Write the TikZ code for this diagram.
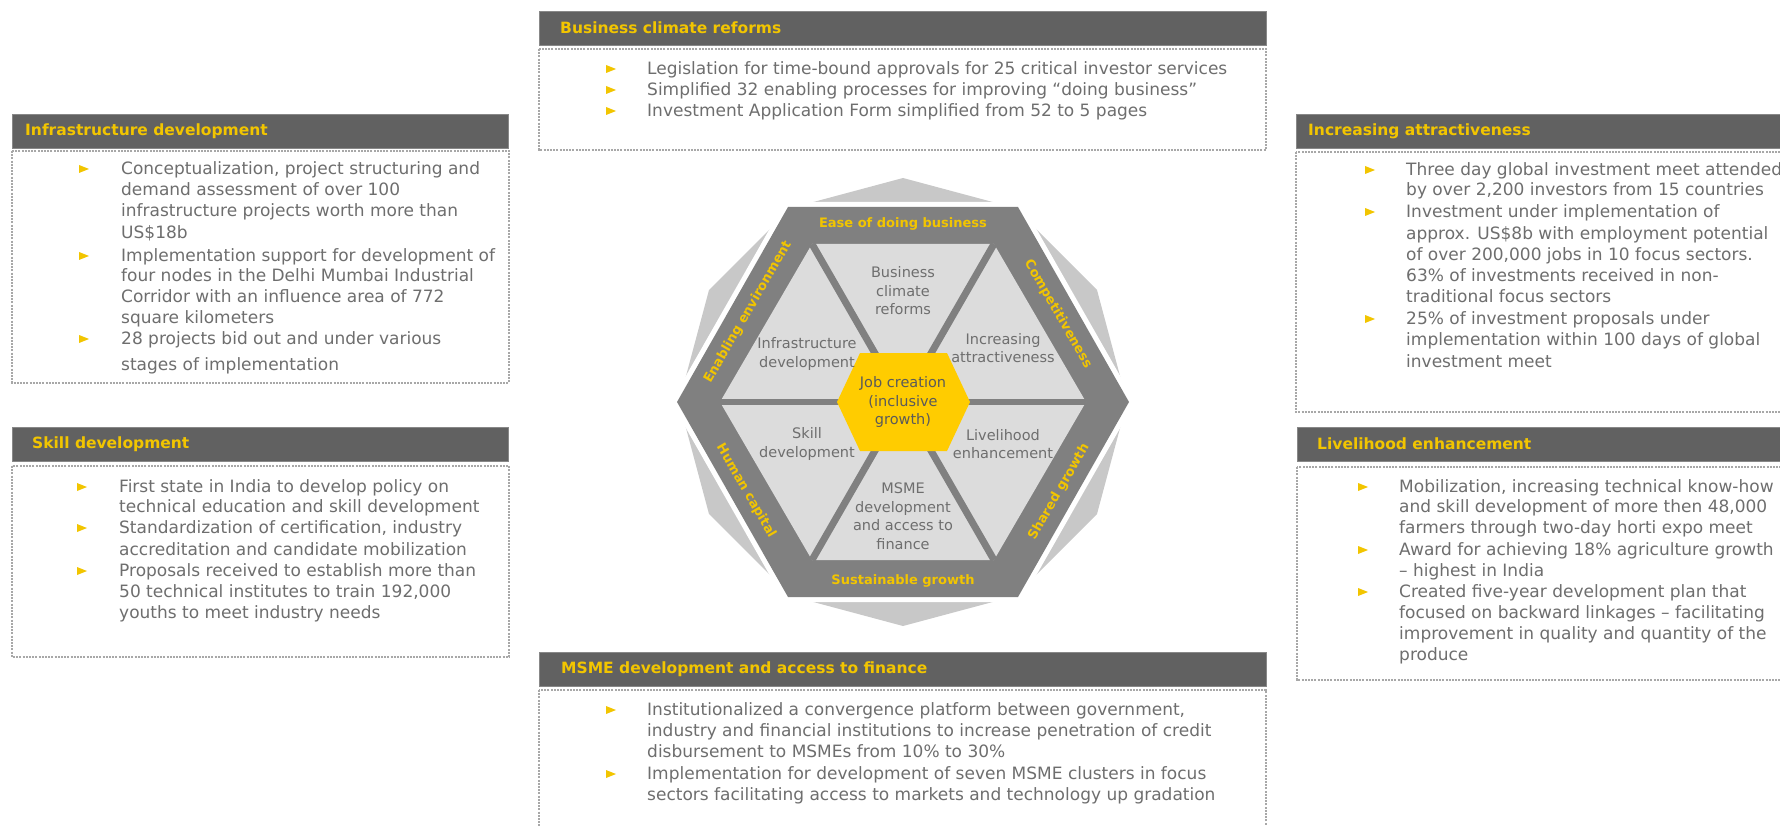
\documentclass[tikz,border=0pt]{standalone}
\usepackage{fontspec}
\setmainfont{DejaVu Sans}
\definecolor{hdr}{HTML}{616161}
\definecolor{ylw}{HTML}{F2C500}
\definecolor{txt}{HTML}{6E6E6E}
\definecolor{dashc}{HTML}{A8A8A8}
\definecolor{band}{HTML}{808080}
\definecolor{tri}{HTML}{DCDCDC}
\definecolor{dodec}{HTML}{C8C8C8}
\definecolor{core}{HTML}{FFCC00}
\definecolor{coretxt}{HTML}{5A5A5A}
\tikzset{
  hdrbar/.style={fill=hdr, draw=hdr!75!white, line width=0.8pt},
  hdrtext/.style={text=ylw, font=\bfseries\fontsize{15.5}{18}\selectfont, anchor=west, inner sep=0pt},
  bodybox/.style={draw=dashc, line width=1.4pt, dash pattern=on 2pt off 1.2pt},
  bodyline/.style={text=txt, font=\fontsize{17}{21}\selectfont, anchor=base west, inner sep=0pt},
  bulletmark/.style={fill=ylw},
  bandlabel/.style={text=ylw, font=\bfseries\fontsize{13}{15}\selectfont, inner sep=0pt},
  trilabel/.style={text=txt, font=\fontsize{14.5}{18.5}\selectfont, align=center, inner sep=0pt},
}
\newcommand\bodylines[4]{%
  \foreach \ly/\lb/\lt [count=\lk] in {#4} {
    \node[bodyline] (#1-\lk) at (#3,\ly+5.5) {\lt};
    \ifnum\lb=1 \fill[bulletmark] (#2,\ly-4) -- (#2+10,\ly) -- (#2,\ly+4) -- cycle; \fi
  }}
\begin{document}
\begin{tikzpicture}[x=1pt,y=-1pt]
\useasboundingbox (0,0) rectangle (1780,826);
\clip (0,0) rectangle (1780,826);
\fill[white] (0,0) rectangle (1780,826);

% ---------- boxes ----------
% top
\draw[bodybox] (539,49) rectangle (1266,150);
\draw[hdrbar] (539,11) rectangle (1266,45);
\node[hdrtext] (h-top) at (560,28) {Business climate reforms};
\bodylines{top}{606}{647}{
  69/1/Legislation for time-bound approvals for 25 critical investor services,
  90/1/Simplified 32 enabling processes for improving “doing business”,
  111/1/Investment Application Form simplified from 52 to 5 pages}

% infrastructure
\draw[bodybox] (12,151) rectangle (509,383);
\draw[hdrbar] (12,114) rectangle (508,148);
\node[hdrtext] (h-inf) at (25,131) {Infrastructure development};
\bodylines{inf}{79}{121}{
  169/1/{Conceptualization, project structuring and},
  190/0/demand assessment of over 100,
  211/0/infrastructure projects worth more than,
  233/0/US\$18b,
  256/1/Implementation support for development of,
  276/0/four nodes in the Delhi Mumbai Industrial,
  297/0/Corridor with an influence area of 772,
  318/0/square kilometers,
  339/1/28 projects bid out and under various,
  365/0/stages of implementation}

% skill
\draw[bodybox] (12,466) rectangle (509,657);
\draw[hdrbar] (12,427) rectangle (508,461);
\node[hdrtext] (h-skl) at (32,444) {Skill development};
\bodylines{skl}{77}{119}{
  487/1/First state in India to develop policy on,
  507/0/technical education and skill development,
  528/1/{Standardization of certification, industry},
  550/0/accreditation and candidate mobilization,
  571/1/Proposals received to establish more than,
  592/0/{50 technical institutes to train 192,000},
  613/0/youths to meet industry needs}

% increasing attractiveness
\draw[bodybox] (1296,152) rectangle (1795,412);
\draw[hdrbar] (1296,114) rectangle (1795,148);
\node[hdrtext] (h-inc) at (1308,131) {Increasing attractiveness};
\bodylines{inc}{1365}{1406}{
  170/1/Three day global investment meet attended,
  190/0/{by over 2,200 investors from 15 countries},
  212/1/Investment under implementation of,
  234/0/approx. US\$8b with employment potential,
  255/0/{of over 200,000 jobs in 10 focus sectors.},
  276/0/63\% of investments received in non-,
  297/0/traditional focus sectors,
  319/1/25\% of investment proposals under,
  340/0/implementation within 100 days of global,
  362/0/investment meet}

% livelihood
\draw[bodybox] (1297,467) rectangle (1795,680);
\draw[hdrbar] (1297,427) rectangle (1795,461);
\node[hdrtext] (h-liv) at (1317,444) {Livelihood enhancement};
\bodylines{liv}{1358}{1399}{
  487/1/{Mobilization, increasing technical know-how},
  507/0/{and skill development of more then 48,000},
  528/0/farmers through two-day horti expo meet,
  550/1/Award for achieving 18\% agriculture growth,
  571/0/– highest in India,
  592/1/Created five-year development plan that,
  613/0/focused on backward linkages – facilitating,
  634/0/improvement in quality and quantity of the,
  655/0/produce}

% MSME
\draw[bodybox] (539,690) rectangle (1266,845);
\draw[hdrbar] (539,652) rectangle (1266,686);
\node[hdrtext] (h-msm) at (561,669) {MSME development and access to finance};
\bodylines{msm}{606}{647}{
  710/1/{Institutionalized a convergence platform between government,},
  731/0/industry and financial institutions to increase penetration of credit,
  752/0/disbursement to MSMEs from 10\% to 30\%,
  774/1/Implementation for development of seven MSME clusters in focus,
  795/0/sectors facilitating access to markets and technology up gradation}

% ---------- central hexagon ----------
\coordinate (C) at (903,402);
% background dodecagon
\fill[dodec] (1127,402) -- (1097,514) -- (1015,596) -- (903,626) -- (791,596) -- (709,514)
  -- (679,402) -- (709,290) -- (791,208) -- (903,178) -- (1015,208) -- (1097,290) -- cycle;
% white gap
\fill[white] (1135,402) -- (1021,602) -- (785,602) -- (671,402) -- (785,202) -- (1021,202) -- cycle;
% dark band hexagon
\fill[band] (1129,402) -- (1018,597) -- (788,597) -- (677,402) -- (788,207) -- (1018,207) -- cycle;
% inner light hexagon
\fill[tri] (1086,402) -- (994,560) -- (812,560) -- (720,402) -- (812,244) -- (994,244) -- cycle;
% dividers
\draw[band, line width=7pt] (812,244) -- (994,560);
\draw[band, line width=7pt] (994,244) -- (812,560);
\draw[band, line width=6pt] (720,402) -- (1086,402);
% yellow core
\fill[core] (837,402) -- (860,353) -- (947,353) -- (970,402) -- (947,451) -- (860,451) -- cycle;

% band labels
\node[bandlabel] (b-top) at (903,224) {Ease of doing business};
\node[bandlabel] (b-bot) at (903,581) {Sustainable growth};
\node[bandlabel, rotate=-60] (b-ur) at (1058,314) {Competitiveness};
\node[bandlabel, rotate=60] (b-lr) at (1059,492) {Shared growth};
\node[bandlabel, rotate=-60] (b-ll) at (746,491) {Human capital};
\node[bandlabel, rotate=60] (b-ul) at (748,312) {Enabling environment};

% triangle labels
\node[trilabel] (t-bcr) at (903,291) {Business\\climate\\reforms};
\node[trilabel] (t-inf) at (807,354) {Infrastructure\\development};
\node[trilabel] (t-inc) at (1003,348) {Increasing\\attractiveness};
\node[trilabel] (t-skl) at (807,444) {Skill\\development};
\node[trilabel] (t-liv) at (1003,444) {Livelihood\\enhancement};
\node[trilabel] (t-msm) at (903,516) {MSME\\development\\and access to\\finance};
\node[trilabel, text=coretxt] (t-job) at (903,402) {Job creation\\(inclusive\\growth)};
\end{tikzpicture}
\end{document}
